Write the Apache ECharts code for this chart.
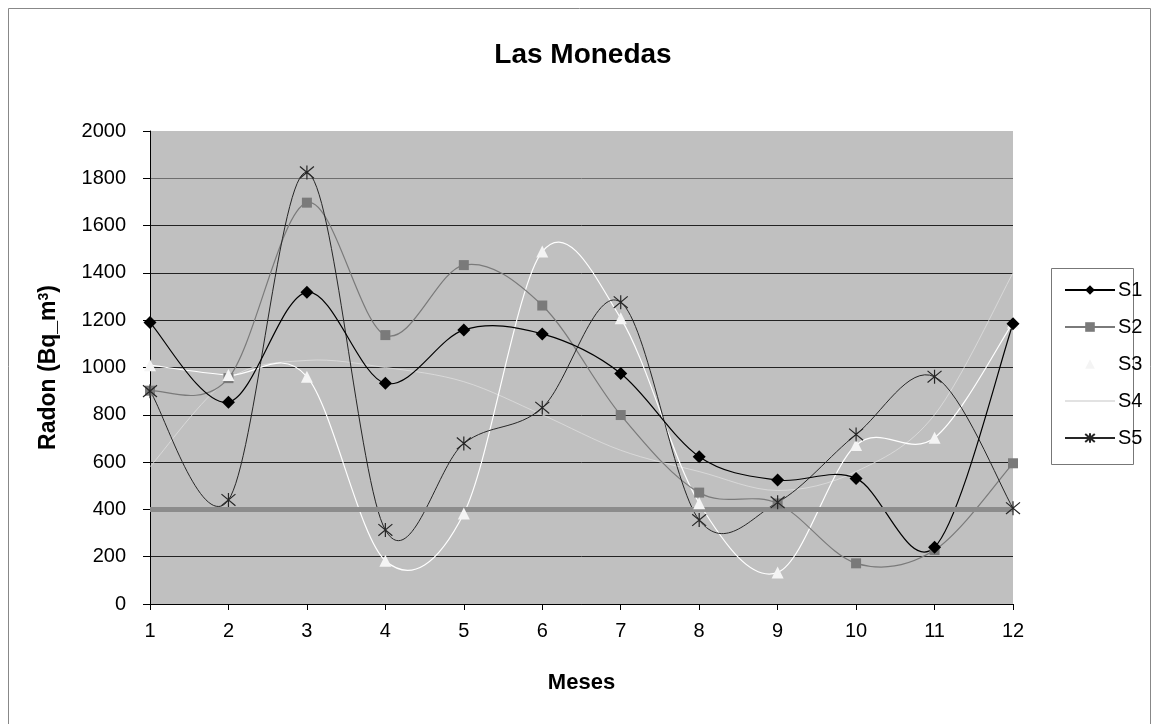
<!DOCTYPE html>
<html>
<head>
<meta charset="utf-8">
<script src="https://cdn.jsdelivr.net/npm/echarts@6/dist/echarts.min.js"></script>
<style>
html,body{margin:0;padding:0;background:#fff;}
#chart{width:1160px;height:724px;}
</style>
</head>
<body>
<div id="chart"></div>
<script>
const months = ['1','2','3','4','5','6','7','8','9','10','11','12'];
const yTicks = [0, 2000, 200];
const s1 = [1190, 853, 1318, 933, 1159, 1142, 975, 623, 524, 531, 240, 1185];
const s2 = [902, 955, 1697, 1137, 1433, 1262, 799, 471, 425, 172, 228, 595];
const s3 = [1010, 968, 961, 183, 383, 1490, 1208, 426, 133, 672, 703, 1190];
const s4 = [580, 950, 1030, 1000, 940, 800, 650, 560, 480, 560, 800, 1400];
const s5 = [900, 440, 1825, 313, 679, 830, 1276, 355, 430, 717, 961, 405];
const limit = 400;

const font = '"Liberation Sans", Arial, sans-serif';
const chart = echarts.init(document.getElementById('chart'));
const star = 'path://M0,0L10,10M10,0L0,10M5,-1L5,11';

// Excel-like smoothed line (Catmull-Rom through the data points), drawn with the axis scales
function smoothCurve(arr, color, width, opacity, z) {
  return {
    type: 'custom', coordinateSystem: 'cartesian2d', silent: true, z: z,
    data: arr.map((v, i) => [i, v]),
    renderItem: function (params, api) {
      const i = params.dataIndex;
      const n = arr.length;
      if (i >= n - 1) return null;
      const c = k => { const j = Math.max(0, Math.min(n - 1, k)); return api.coord([j, arr[j]]); };
      const p0 = c(i - 1), p1 = c(i), p2 = c(i + 1), p3 = c(i + 2);
      return {
        type: 'bezierCurve',
        shape: {
          x1: p1[0], y1: p1[1], x2: p2[0], y2: p2[1],
          cpx1: p1[0] + (p2[0] - p0[0]) / 6, cpy1: p1[1] + (p2[1] - p0[1]) / 6,
          cpx2: p2[0] - (p3[0] - p1[0]) / 6, cpy2: p2[1] - (p3[1] - p1[1]) / 6
        },
        style: {stroke: color, lineWidth: width, fill: null, opacity: opacity}
      };
    }
  };
}

function markers(name, arr, symbol, size, lineColor, itemStyle, z, showSym) {
  return {name: name, type: 'line', data: arr, symbol: symbol, symbolSize: size,
    showSymbol: showSym, lineStyle: {color: lineColor, width: 1, opacity: 0}, itemStyle: itemStyle, z: z};
}

chart.setOption({
  backgroundColor: '#ffffff',
  animation: false,
  title: {
    text: 'Las Monedas', left: 578, top: 36, textAlign: 'center',
    textStyle: {fontFamily: font, fontSize: 28, fontWeight: 'bold', color: '#000'}
  },
  legend: {
    orient: 'vertical', left: 1059, top: 275, itemGap: 17,
    itemWidth: 50, itemHeight: 12,
    textStyle: {fontFamily: font, fontSize: 20, color: '#000', padding: [0, 0, 0, -2]},
    lineStyle: {opacity: 1},
    data: ['S1', 'S2', 'S3', 'S4', 'S5']
  },
  graphic: [
    {type: 'rect', shape: {x: 8.5, y: 8.5, width: 1142, height: 730}, style: {fill: 'none', stroke: '#888', lineWidth: 1}, z: -1},
    {type: 'rect', shape: {x: 1051.5, y: 268.5, width: 82, height: 196}, style: {fill: '#fff', stroke: '#777', lineWidth: 1}, z: 0}
  ],
  grid: {left: 150, right: 147, top: 131, bottom: 120, show: true, backgroundColor: '#c0c0c0', borderWidth: 0},
  xAxis: {
    type: 'category', data: months, boundaryGap: false,
    name: 'Meses', nameLocation: 'middle', nameGap: 68,
    nameTextStyle: {fontFamily: font, fontSize: 22, fontWeight: 'bold', color: '#000'},
    axisLine: {lineStyle: {color: '#000', width: 1}},
    axisTick: {show: true, length: 6, lineStyle: {color: '#000'}},
    axisLabel: {fontFamily: font, fontSize: 20, color: '#000', margin: 17},
    splitLine: {show: false}
  },
  yAxis: {
    type: 'value', min: yTicks[0], max: yTicks[1], interval: yTicks[2],
    name: 'Radon (Bq_m{sup|3})', nameLocation: 'middle', nameGap: 89,
    nameTextStyle: {fontFamily: font, fontSize: 23, fontWeight: 'bold', color: '#000',
      rich: {sup: {fontFamily: font, fontSize: 14, fontWeight: 'bold', color: '#000', verticalAlign: 'top', padding: [0, 0, 10, 0]}}},
    axisLine: {show: true, lineStyle: {color: '#000', width: 1}},
    axisTick: {show: true, length: 7, lineStyle: {color: '#000'}},
    axisLabel: {fontFamily: font, fontSize: 20, color: '#000', margin: 24, formatter: v => String(v)},
    splitLine: {show: true, lineStyle: {color: ['#000','#222','#222','#222','#222','#222','#222','#222','#222','#6e6e6e','#c0c0c0'], width: 1}}
  },
  series: [
    smoothCurve(s4, '#dedede', 1, 0.8, 2),
    smoothCurve(s3, '#ffffff', 1.2, 1, 3),
    smoothCurve(s2, '#7a7a7a', 1.2, 1, 3),
    smoothCurve(s5, '#262626', 1, 1, 3),
    smoothCurve(s1, '#000000', 1.2, 1, 4),
    Object.assign(markers('S1', s1, 'diamond', 13, '#000', {color: '#000'}, 6, true), {
      markLine: {silent: true, symbol: 'none', label: {show: false},
        lineStyle: {color: '#8c8c8c', width: 5, type: 'solid', opacity: 1}, data: [{yAxis: limit}]}}),
    markers('S2', s2, 'rect', 10, '#7a7a7a', {color: '#7a7a7a'}, 5, true),
    markers('S3', s3, 'triangle', 12, '#ffffff', {color: '#f4f4f4'}, 5, true),
    markers('S4', s4, 'circle', 6, '#e2e2e2', {color: 'rgba(0,0,0,0)', borderWidth: 0}, 5, false),
    markers('S5', s5, star, 14, '#262626', {color: 'none', borderColor: '#262626', borderWidth: 1.2}, 5, true)
  ]
});
</script>
</body>
</html>
